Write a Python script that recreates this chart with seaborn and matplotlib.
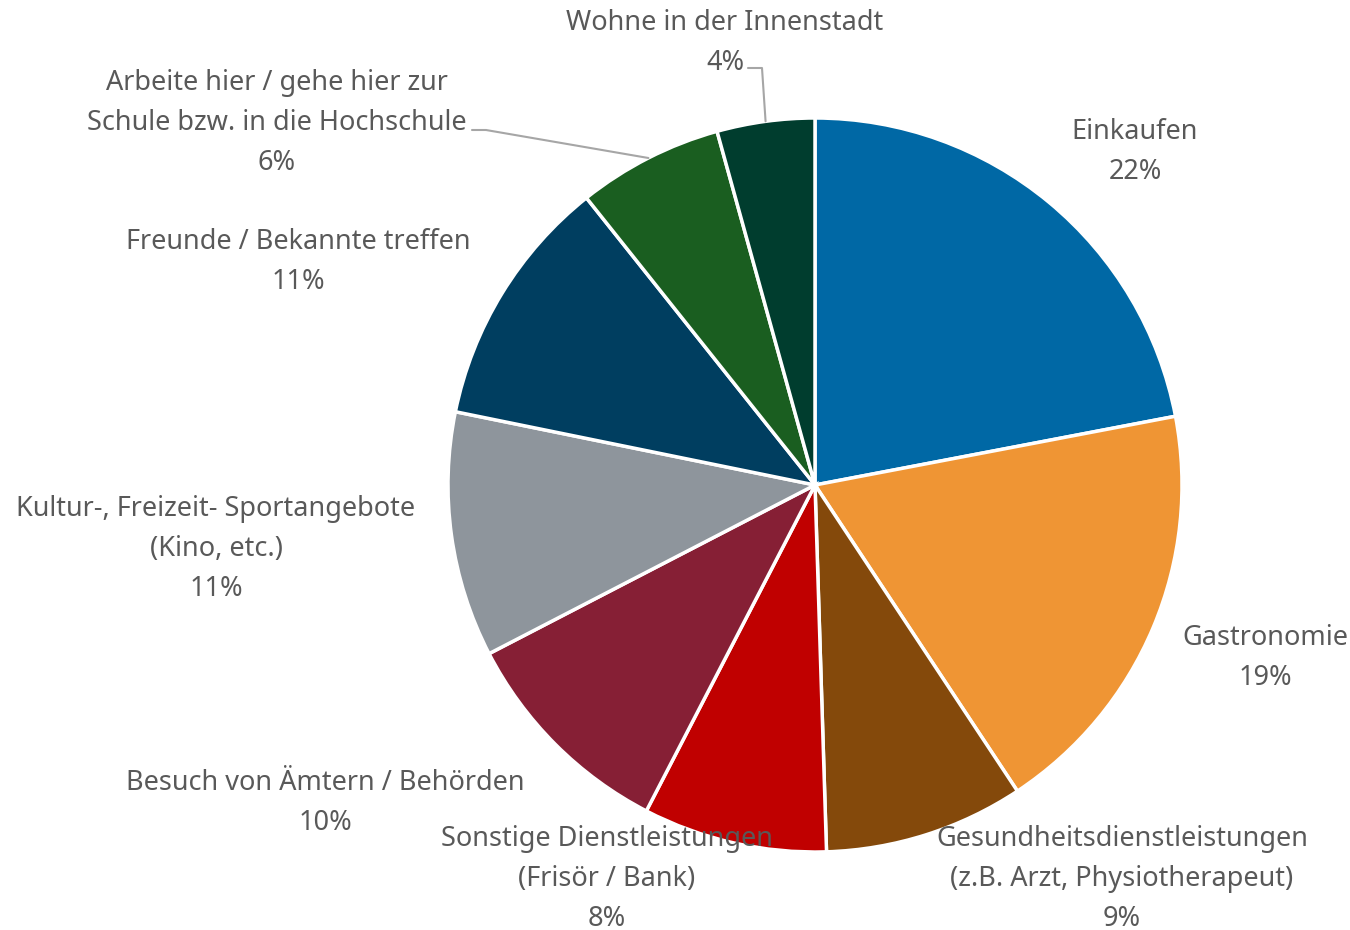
import matplotlib
matplotlib.use("Agg")
import matplotlib.pyplot as plt
import numpy as np
import seaborn as sns

# Daten (Anteile in %, aus dem Bild geschätzt)
categories = [
    "Einkaufen",
    "Gastronomie",
    "Gesundheitsdienstleistungen\n(z.B. Arzt, Physiotherapeut)",
    "Sonstige Dienstleistungen\n(Frisör / Bank)",
    "Besuch von Ämtern / Behörden",
    "Kultur-, Freizeit- Sportangebote\n(Kino, etc.)",
    "Freunde / Bekannte treffen",
    "Arbeite hier / gehe hier zur\nSchule bzw. in die Hochschule",
    "Wohne in der Innenstadt",
]
shares = [22.0, 18.7, 8.8, 8.1, 9.8, 10.8, 11.1, 6.4, 4.3]

colors = ["#0068A5", "#EF9534", "#84490B", "#C00000", "#861F35",
          "#8E959C", "#003E60", "#1A5E20", "#003D2E"]

# Layout: Mittelpunkt der Beschriftungen (Pixel, von oben gemessen)
label_pos = [(1135, 152), (1265, 658), (1122, 879), (607, 879), (325, 803),
             (216, 549), (298, 262), (277, 123), (725, 43)]
leader = [False, False, False, False, False, False, False, True, True]

W, H = 1350, 930
cx, cy, R = 815, H - 485, 367

sns.set_theme(style="white")
plt.rcParams["font.family"] = ["Noto Sans", "DejaVu Sans"]

fig = plt.figure(figsize=(13.5, 9.3), dpi=100)
ax = fig.add_axes([0, 0, 1, 1])

wedges, _ = ax.pie(shares, colors=colors, startangle=90, counterclock=False,
                   center=(cx, cy), radius=R,
                   wedgeprops=dict(edgecolor="white", linewidth=2.5))

text_color = "#595959"
for w, name, val, (lx, ly), lead in zip(wedges, categories, shares, label_pos, leader):
    ty = H - ly
    ax.text(lx, ty, f"{name}\n{val:.0f}%", ha="center", va="center",
            multialignment="center", fontsize=19.5, color=text_color,
            linespacing=1.55, zorder=5)
    if lead:
        mid = np.deg2rad((w.theta1 + w.theta2) / 2)
        ex, ey = cx + R * np.cos(mid), cy + R * np.sin(mid)
        if name.startswith("Wohne"):
            sx, sy = 748, H - 68
        else:
            sx, sy = 472, H - 130
        ax.plot([sx, sx + 14, ex], [sy, sy, ey], color="#A6A6A6", lw=1.5, zorder=4)

ax.set_xlim(0, W)
ax.set_ylim(0, H)
ax.set_aspect("equal")
ax.axis("off")

fig.savefig("out.png", dpi=100, facecolor="white")
